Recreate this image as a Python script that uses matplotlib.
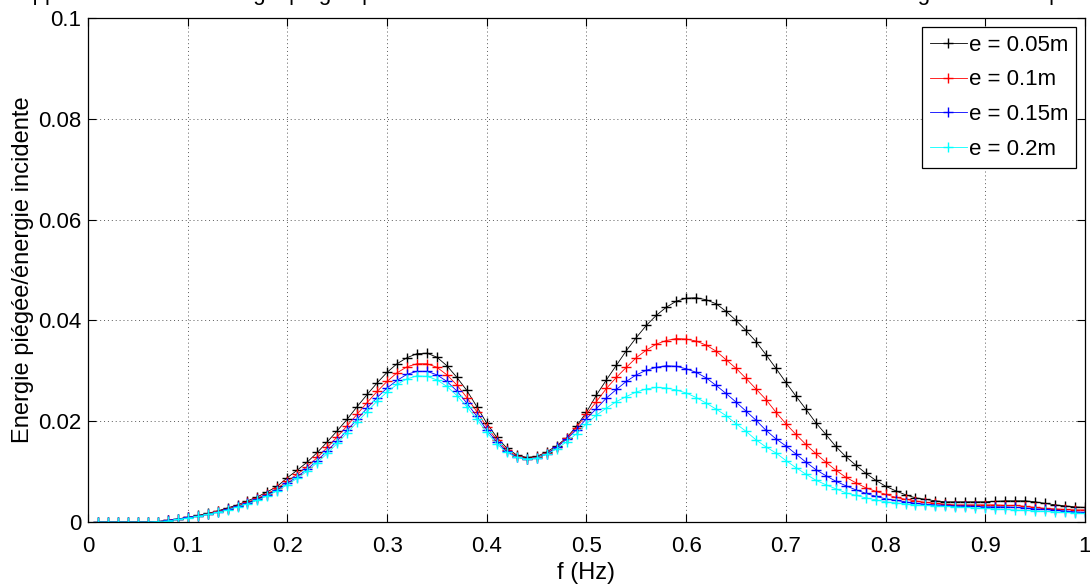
import numpy as np
import matplotlib
matplotlib.use("Agg")
import matplotlib.pyplot as plt

plt.rcParams["font.family"] = ["Liberation Sans", "DejaVu Sans"]

# Frequency grid (Hz)
freq = np.linspace(0.01, 1.0, 100)

# Trapped energy / incident energy, one list per plate thickness
ratio_005 = [
    0, 0, 0, 0, 0, 0, 0.0001, 0.0003, 0.0006, 0.0009,
    0.0013, 0.0017, 0.0022, 0.0028, 0.0034, 0.0042, 0.0050, 0.0060, 0.0071, 0.0088,
    0.0103, 0.0119, 0.0138, 0.0159, 0.0181, 0.0204, 0.0229, 0.0253, 0.0276, 0.0297,
    0.0314, 0.0326, 0.0334, 0.0335, 0.0327, 0.0310, 0.0287, 0.0261, 0.0229, 0.0196,
    0.0168, 0.0147, 0.0133, 0.0128, 0.0130, 0.0139, 0.0151, 0.0167, 0.0190, 0.0218,
    0.0252, 0.0282, 0.0311, 0.0340, 0.0366, 0.0390, 0.0410, 0.0426, 0.0438, 0.0444,
    0.0445, 0.0441, 0.0433, 0.0418, 0.0400, 0.0380, 0.0358, 0.0332, 0.0305, 0.0277,
    0.0250, 0.0224, 0.0197, 0.0174, 0.0150, 0.0130, 0.0113, 0.0097, 0.0083, 0.0071,
    0.0062, 0.0054, 0.0048, 0.0045, 0.0042, 0.0040, 0.0040, 0.0040, 0.0040, 0.0040,
    0.0041, 0.0042, 0.0042, 0.0042, 0.0040, 0.0037, 0.0034, 0.0032, 0.0030, 0.0029,
]
ratio_01 = [
    0, 0, 0, 0, 0, 0, 0.0001, 0.0003, 0.0006, 0.0009,
    0.0012, 0.0016, 0.0021, 0.0026, 0.0032, 0.0039, 0.0047, 0.0056, 0.0067, 0.0081,
    0.0095, 0.0110, 0.0128, 0.0148, 0.0169, 0.0191, 0.0214, 0.0237, 0.0259, 0.0279,
    0.0296, 0.0308, 0.0314, 0.0314, 0.0307, 0.0292, 0.0272, 0.0247, 0.0219, 0.0189,
    0.0163, 0.0143, 0.0131, 0.0126, 0.0128, 0.0136, 0.0149, 0.0166, 0.0187, 0.0214,
    0.0239, 0.0265, 0.0287, 0.0307, 0.0326, 0.0341, 0.0353, 0.0360, 0.0364, 0.0363,
    0.0359, 0.0351, 0.0339, 0.0322, 0.0305, 0.0285, 0.0264, 0.0243, 0.0218, 0.0195,
    0.0174, 0.0154, 0.0136, 0.0119, 0.0103, 0.0089, 0.0078, 0.0068, 0.0061, 0.0055,
    0.0049, 0.0045, 0.0042, 0.0039, 0.0037, 0.0035, 0.0034, 0.0034, 0.0034, 0.0034,
    0.0034, 0.0033, 0.0033, 0.0031, 0.0029, 0.0027, 0.0026, 0.0025, 0.0024, 0.0024,
]
ratio_015 = [
    0, 0, 0, 0, 0, 0, 0.0001, 0.0003, 0.0006, 0.0009,
    0.0012, 0.0015, 0.0020, 0.0025, 0.0031, 0.0037, 0.0045, 0.0054, 0.0064, 0.0077,
    0.0090, 0.0105, 0.0122, 0.0141, 0.0161, 0.0182, 0.0204, 0.0226, 0.0247, 0.0266,
    0.0281, 0.0293, 0.0299, 0.0299, 0.0292, 0.0279, 0.0260, 0.0236, 0.0210, 0.0183,
    0.0159, 0.0140, 0.0129, 0.0125, 0.0127, 0.0135, 0.0148, 0.0164, 0.0183, 0.0205,
    0.0225, 0.0246, 0.0263, 0.0279, 0.0292, 0.0301, 0.0307, 0.0310, 0.0309, 0.0304,
    0.0297, 0.0286, 0.0271, 0.0255, 0.0238, 0.0220, 0.0202, 0.0182, 0.0165, 0.0151,
    0.0135, 0.0119, 0.0104, 0.0092, 0.0081, 0.0072, 0.0064, 0.0057, 0.0051, 0.0046,
    0.0043, 0.0040, 0.0037, 0.0035, 0.0034, 0.0033, 0.0032, 0.0032, 0.0031, 0.0030,
    0.0030, 0.0030, 0.0029, 0.0028, 0.0026, 0.0025, 0.0023, 0.0022, 0.0020, 0.0019,
]
ratio_02 = [
    0, 0, 0, 0, 0, 0, 0.0001, 0.0002, 0.0005, 0.0008,
    0.0011, 0.0015, 0.0019, 0.0024, 0.0030, 0.0036, 0.0043, 0.0052, 0.0062, 0.0074,
    0.0087, 0.0101, 0.0118, 0.0136, 0.0156, 0.0177, 0.0198, 0.0219, 0.0240, 0.0258,
    0.0273, 0.0284, 0.0290, 0.0289, 0.0282, 0.0269, 0.0251, 0.0229, 0.0204, 0.0178,
    0.0155, 0.0138, 0.0128, 0.0125, 0.0127, 0.0134, 0.0145, 0.0159, 0.0175, 0.0195,
    0.0212, 0.0226, 0.0239, 0.0249, 0.0258, 0.0264, 0.0267, 0.0266, 0.0262, 0.0256,
    0.0247, 0.0236, 0.0224, 0.0211, 0.0195, 0.0180, 0.0163, 0.0149, 0.0137, 0.0122,
    0.0108, 0.0095, 0.0083, 0.0074, 0.0066, 0.0058, 0.0053, 0.0048, 0.0044, 0.0040,
    0.0038, 0.0036, 0.0034, 0.0033, 0.0032, 0.0031, 0.0030, 0.0029, 0.0028, 0.0027,
    0.0026, 0.0025, 0.0024, 0.0023, 0.0022, 0.0021, 0.0020, 0.0019, 0.0018, 0.0017,
]

series = [ratio_005, ratio_01, ratio_015, ratio_02]
labels = ["e = 0.05m", "e = 0.1m", "e = 0.15m", "e = 0.2m"]
colors = ["#000000", "#ff0000", "#0000ff", "#00ffff"]

xticks = [0, 0.1, 0.2, 0.3, 0.4, 0.5, 0.6, 0.7, 0.8, 0.9, 1]
xticklabels = ["0", "0.1", "0.2", "0.3", "0.4", "0.5", "0.6", "0.7", "0.8", "0.9", "1"]
yticks = [0, 0.02, 0.04, 0.06, 0.08, 0.1]
yticklabels = ["0", "0.02", "0.04", "0.06", "0.08", "0.1"]

title = ("Rapport du total de l'énergie piégée par l'obstacle sur toute la durée "
         "de la simulation et l'énergie incidente pour différentes épaisseurs de plaque")

fig = plt.figure(figsize=(10.9, 5.86), dpi=100)
ax = fig.add_axes([0.0807, 0.1092, 0.9147, 0.8601])

for values, label, color in zip(series, labels, colors):
    ax.plot(freq, values, color=color, marker="+", markersize=6.5,
            markeredgewidth=1.0, linewidth=0.6, label=label)

ax.set_xlim(0, 1)
ax.set_ylim(0, 0.1)
ax.set_xticks(xticks)
ax.set_xticklabels(xticklabels)
ax.set_yticks(yticks)
ax.set_yticklabels(yticklabels)
ax.tick_params(direction="in", length=6, width=0.8, labelsize=16,
               top=True, right=True)
ax.tick_params(axis="x", pad=10)
ax.tick_params(axis="y", pad=5)
ax.grid(True, linestyle=(0, (1, 3)), color="0.35", linewidth=0.7)
for spine in ax.spines.values():
    spine.set_linewidth(0.9)

ax.set_xlabel("f (Hz)", fontsize=17, labelpad=4)
ax.set_ylabel("Energie piégée/énergie incidente", fontsize=17, labelpad=3)

# Title sits above the canvas, only the descenders show
fig.text(0.004, 1.0, title, fontsize=16, ha="left", va="baseline")

leg = ax.legend(loc="upper right", fontsize=16, fancybox=False, framealpha=1,
                edgecolor="k", handlelength=1.65, handletextpad=0.1,
                borderaxespad=0.4, labelspacing=0.62, borderpad=0.35)
leg.get_frame().set_linewidth(0.9)

fig.savefig("out.png", dpi=100)
plt.close(fig)
